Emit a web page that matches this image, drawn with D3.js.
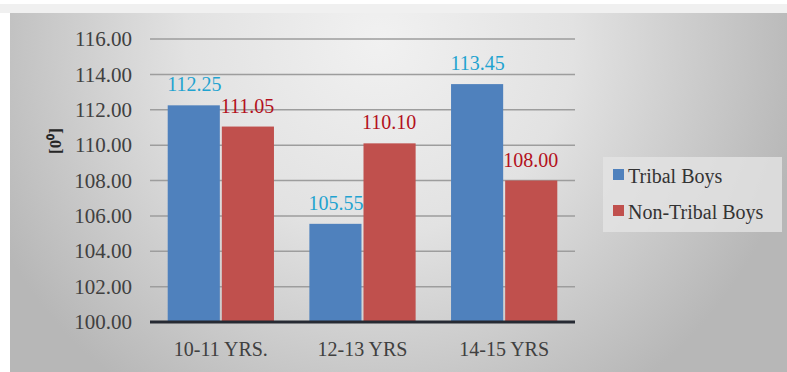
<!DOCTYPE html>
<html>
<head>
<meta charset="utf-8">
<script src="https://cdn.jsdelivr.net/npm/d3@7"></script>
</head>
<body style="margin:0">
<script>
// data
var categories = ["10-11 YRS.", "12-13 YRS", "14-15 YRS"];
var seriesNames = ["Tribal Boys", "Non-Tribal Boys"];
var tribalBoys = [112.25, 105.55, 113.45];
var nonTribalBoys = [111.05, 110.10, 108.00];
var yTicks = [100, 102, 104, 106, 108, 110, 112, 114, 116];

var svgWidth = 787;
var svgHeight = 372;
var fontName = "'Liberation Serif'";

var barColors = ["#4f81bd", "#c0504d"];
var labelColors = ["#1fa3d0", "#b3111c"];

var svg = d3.select("body")
  .append("svg")
  .attr("width", svgWidth)
  .attr("height", svgHeight)
  .style("display", "block");

// background panel with radial gradient
var defs = svg.append("defs");
var grad = defs.append("radialGradient")
  .attr("id", "bg")
  .attr("gradientUnits", "userSpaceOnUse")
  .attr("cx", 380).attr("cy", 40).attr("r", 430);
grad.append("stop").attr("offset", "0%").attr("stop-color", "#f1f1f1");
grad.append("stop").attr("offset", "45%").attr("stop-color", "#e2e2e2");
grad.append("stop").attr("offset", "100%").attr("stop-color", "#b7b7b7");

svg.append("rect")
  .attr("x", 0).attr("y", 4)
  .attr("width", svgWidth).attr("height", 9)
  .attr("fill", "#f0f0f0");
svg.append("rect")
  .attr("x", 10).attr("y", 13)
  .attr("width", svgWidth - 10).attr("height", svgHeight - 13)
  .attr("fill", "url(#bg)");

var plot = { left: 150, right: 575, top: 39, bottom: 322 };

var x0 = d3.scaleBand()
  .domain(categories)
  .range([plot.left, plot.right])
  .paddingInner(0.25)
  .paddingOuter(0.125);

var x1 = d3.scaleBand()
  .domain(seriesNames)
  .range([0, x0.bandwidth()]);

var y = d3.scaleLinear()
  .domain([100, 116])
  .range([plot.bottom, plot.top]);

// gridlines
svg.append("g")
  .selectAll("line")
  .data(yTicks.slice(1))
  .enter()
  .append("line")
  .attr("x1", plot.left)
  .attr("x2", plot.right)
  .attr("y1", d => y(d))
  .attr("y2", d => y(d))
  .attr("stroke", "#9d9d9d")
  .attr("stroke-width", 1.5);

// y axis labels
var leftAxis = d3.axisLeft(y)
  .tickValues(yTicks)
  .tickFormat(d3.format(".2f"))
  .tickSize(0)
  .tickPadding(18);

var yAxis = svg.append("g")
  .attr("transform", `translate(${plot.left}, 0)`)
  .call(leftAxis);
yAxis.select(".domain").remove();
yAxis.selectAll("text")
  .attr("fill", "#404040")
  .style("font-family", fontName, "important")
  .style("font-size", "21px", "important");

// bars
var rows = categories.map(function(c, i) {
  return { cat: c, values: [tribalBoys[i], nonTribalBoys[i]] };
});

var groups = svg.append("g")
  .selectAll("g")
  .data(rows)
  .enter()
  .append("g")
  .attr("transform", d => `translate(${x0(d.cat)}, 0)`);

groups.selectAll("rect")
  .data(d => d.values.map((v, j) => ({ name: seriesNames[j], value: v, j: j })))
  .enter()
  .append("rect")
  .attr("x", d => x1(d.name) + (d.j === 1 ? 1 : 0))
  .attr("y", d => y(d.value))
  .attr("width", x1.bandwidth() - 1)
  .attr("height", d => y(100) - y(d.value))
  .attr("fill", d => barColors[d.j]);

groups.selectAll("text")
  .data(d => d.values.map((v, j) => ({ name: seriesNames[j], value: v, j: j })))
  .enter()
  .append("text")
  .attr("x", d => x1(d.name) + x1.bandwidth() / 2)
  .attr("y", d => y(d.value) - 14)
  .attr("text-anchor", "middle")
  .attr("fill", d => labelColors[d.j])
  .style("font-family", fontName, "important")
  .style("font-size", "20px", "important")
  .text(d => d3.format(".2f")(d.value));

// baseline
svg.append("line")
  .attr("x1", plot.left)
  .attr("x2", plot.right)
  .attr("y1", y(100))
  .attr("y2", y(100))
  .attr("stroke", "#262a33")
  .attr("stroke-width", 3);

// x axis labels
var bottomAxis = d3.axisBottom(x0).tickSize(0).tickPadding(20);
var xAxis = svg.append("g")
  .attr("transform", `translate(0, ${plot.bottom})`)
  .call(bottomAxis);
xAxis.select(".domain").remove();
xAxis.selectAll("text")
  .attr("fill", "#404040")
  .style("font-family", fontName, "important")
  .style("font-size", "20px", "important");

// y axis title
svg.append("text")
  .attr("transform", "translate(61, 141) rotate(-90)")
  .attr("text-anchor", "middle")
  .attr("fill", "#262626")
  .style("font-family", fontName, "important")
  .style("font-size", "17px", "important")
  .style("font-weight", "bold")
  .text("[0⁰]");

// legend
var legend = svg.append("g");
legend.append("rect")
  .attr("x", 603).attr("y", 157)
  .attr("width", 179).attr("height", 75)
  .attr("fill", "#e3e3e3")
  .attr("opacity", 0.8);

var legendItems = legend.selectAll("g")
  .data(seriesNames)
  .enter()
  .append("g")
  .attr("transform", (d, i) => `translate(613, ${169 + i * 36})`);

legendItems.append("rect")
  .attr("width", 11)
  .attr("height", 11)
  .attr("fill", (d, i) => barColors[i]);

legendItems.append("text")
  .attr("x", 15)
  .attr("y", 14)
  .attr("fill", "#333")
  .style("font-family", fontName, "important")
  .style("font-size", "20px", "important")
  .text(d => d);
</script>
</body>
</html>
